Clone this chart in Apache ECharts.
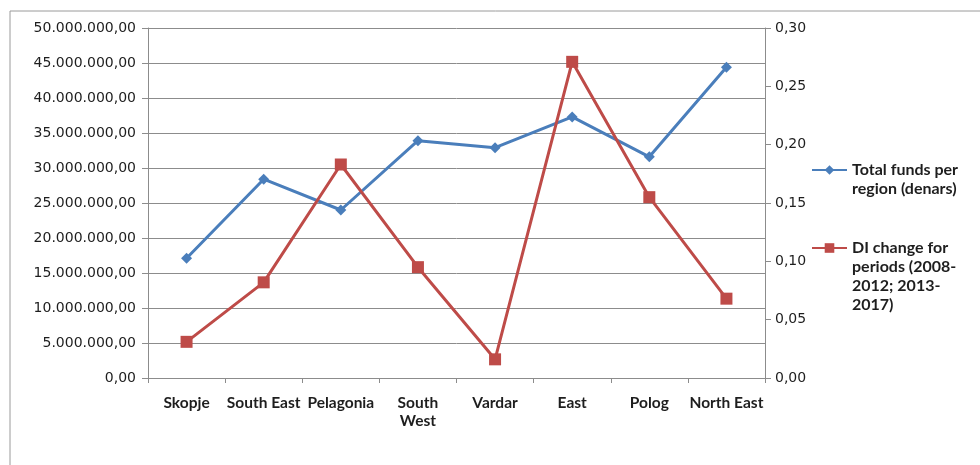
<!DOCTYPE html>
<html>
<head>
<meta charset="utf-8">
<script src="https://cdn.jsdelivr.net/npm/echarts@6/dist/echarts.min.js"></script>
<style>
html,body{margin:0;padding:0;background:#fff;}
#chart{width:980px;height:465px;}
</style>
</head>
<body>
<div id="chart"></div>
<script>
const categories = ['Skopje','South East','Pelagonia','South West','Vardar','East','Polog','North East'];
const totalFunds = [17100000, 28400000, 24000000, 33900000, 32900000, 37300000, 31600000, 44400000];
const diChange = [0.031, 0.082, 0.183, 0.095, 0.016, 0.271, 0.155, 0.068];
const seriesNames = ['Total funds per region (denars)', 'DI change for periods (2008-2012; 2013-2017)'];
const legendLines = [['Total funds per','region (denars)'], ['DI change for','periods (2008-','2012; 2013-','2017)']];

function fmtLeft(v){
  const s = Math.round(v).toString().replace(/\B(?=(\d{3})+(?!\d))/g,'.');
  return s + ',00';
}
function fmtRight(v){
  return v.toFixed(2).replace('.', ',');
}
// pad with blank lines above so that the first text line sits level with the legend icon
function legendText(lines){
  return '\n'.repeat(lines.length-1) + lines.join('\n');
}

const chart = echarts.init(document.getElementById('chart'));
const axisGray = '#8c8c8c';
const txt = '#1e1e1e';
const LH = 19;
const legendStyle = {fontFamily:'Lato',fontWeight:'bold',fontSize:16,color:txt,lineHeight:LH};
chart.setOption({
  animation:false,
  backgroundColor:'#fff',
  graphic:[{type:'rect',shape:{x:10,y:11,width:990,height:480},style:{fill:'none',stroke:'#9a9a9a',lineWidth:1},silent:true}],
  grid:{left:148,right:215,top:28,bottom:87},
  legend:[
    {orient:'vertical',left:811,top:170-(2*legendLines[0].length-1)*LH/2,padding:0,itemWidth:35,itemHeight:12,itemGap:0,
     data:[seriesNames[0]],
     formatter:()=>legendText(legendLines[0]),
     textStyle:legendStyle},
    {orient:'vertical',left:811,top:248-(2*legendLines[1].length-1)*LH/2,padding:0,itemWidth:35,itemHeight:12,itemGap:0,
     data:[seriesNames[1]],
     formatter:()=>legendText(legendLines[1]),
     textStyle:legendStyle}
  ],
  xAxis:{type:'category',data:categories,boundaryGap:true,
    axisLine:{lineStyle:{color:axisGray,width:1}},
    axisTick:{show:true,length:5,lineStyle:{color:axisGray},alignWithLabel:false},
    axisLabel:{interval:0,margin:16,fontFamily:'Lato',fontWeight:'bold',fontSize:15.5,color:txt,lineHeight:18,
      formatter:v=>v==='South West'?'South\nWest':v}},
  yAxis:[
    {type:'value',min:0,max:50000000,interval:5000000,position:'left',
     axisLine:{show:true,lineStyle:{color:axisGray}},
     axisTick:{show:true,length:6,lineStyle:{color:axisGray}},
     splitLine:{show:true,lineStyle:{color:axisGray,width:1}},
     axisLabel:{margin:12,fontFamily:'DejaVu Sans',fontSize:14,color:txt,formatter:fmtLeft}},
    {type:'value',min:0,max:0.30,interval:0.05,position:'right',
     axisLine:{show:true,lineStyle:{color:axisGray}},
     axisTick:{show:true,length:6,lineStyle:{color:axisGray}},
     splitLine:{show:false},
     axisLabel:{margin:10,fontFamily:'DejaVu Sans',fontSize:14,color:txt,formatter:fmtRight}}
  ],
  series:[
    {name:seriesNames[0],type:'line',yAxisIndex:0,data:totalFunds,
     symbol:'diamond',symbolSize:11,
     lineStyle:{color:'#4a7ebb',width:3},itemStyle:{color:'#4a7ebb'}},
    {name:seriesNames[1],type:'line',yAxisIndex:1,data:diChange,
     symbol:'rect',symbolSize:12,
     lineStyle:{color:'#be4b48',width:3},itemStyle:{color:'#be4b48'}}
  ]
});
</script>
</body>
</html>
